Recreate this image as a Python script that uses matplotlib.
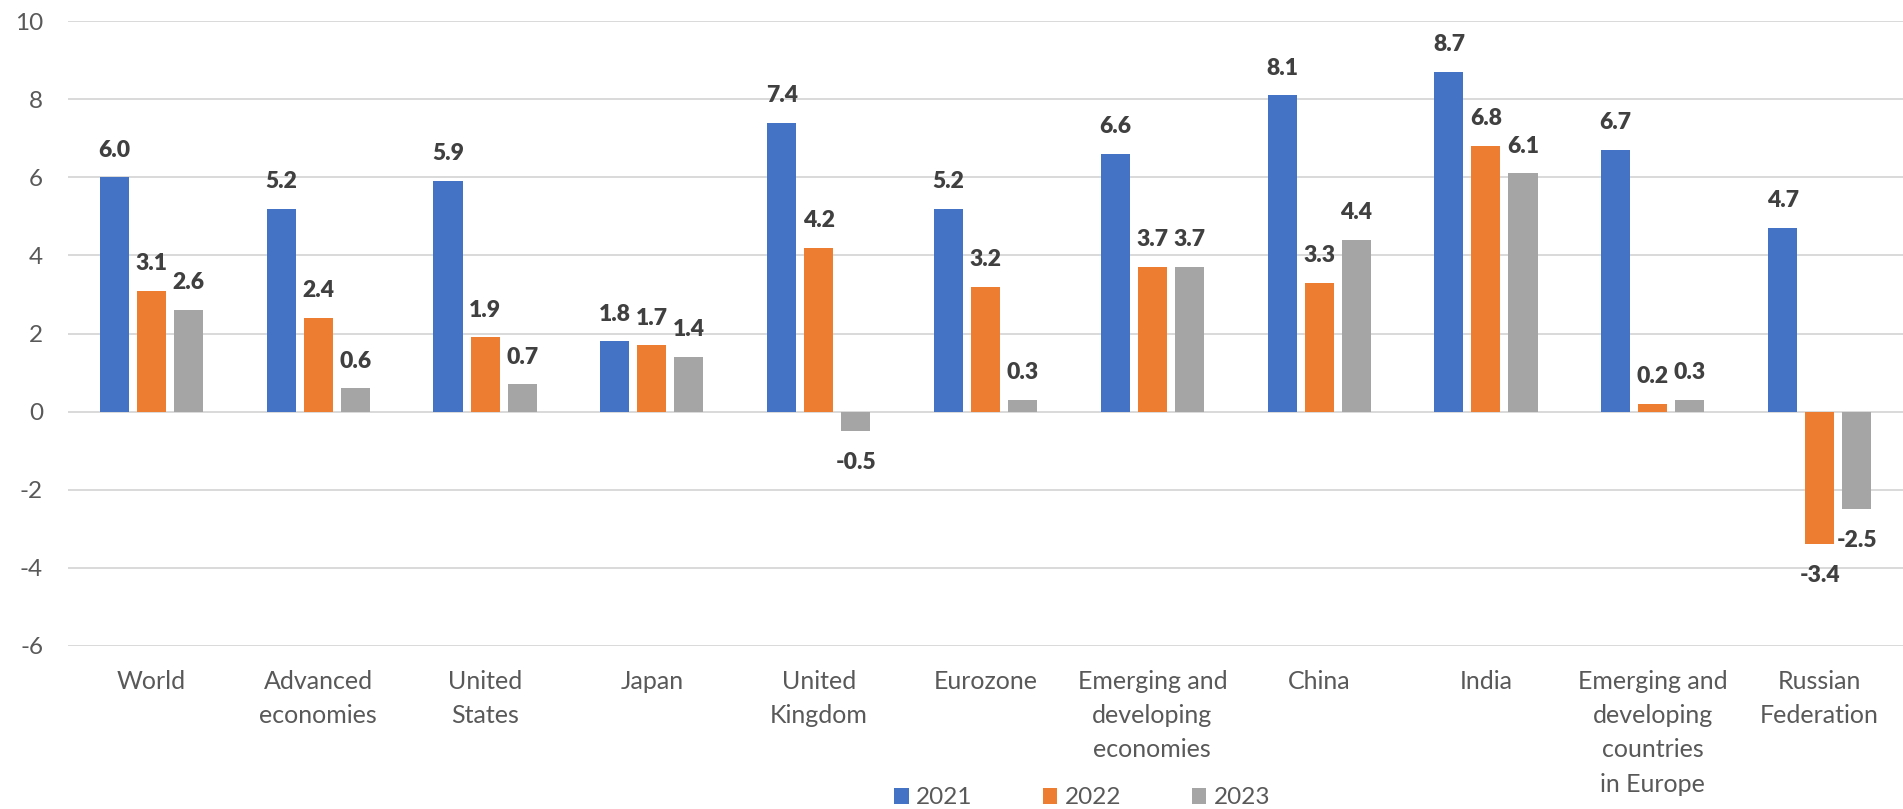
import matplotlib.pyplot as plt
import numpy as np
from matplotlib.patches import Patch

plt.rcParams['font.family'] = ['Lato', 'DejaVu Sans']
plt.rcParams['axes.unicode_minus'] = False

categories = [
    "World",
    "Advanced\neconomies",
    "United\nStates",
    "Japan",
    "United\nKingdom",
    "Eurozone",
    "Emerging and\ndeveloping\neconomies",
    "China",
    "India",
    "Emerging and\ndeveloping\ncountries\nin Europe",
    "Russian\nFederation",
]
years = ["2021", "2022", "2023"]
growth_2021 = [6.0, 5.2, 5.9, 1.8, 7.4, 5.2, 6.6, 8.1, 8.7, 6.7, 4.7]
growth_2022 = [3.1, 2.4, 1.9, 1.7, 4.2, 3.2, 3.7, 3.3, 6.8, 0.2, -3.4]
growth_2023 = [2.6, 0.6, 0.7, 1.4, -0.5, 0.3, 3.7, 4.4, 6.1, 0.3, -2.5]
colors = ["#4472C4", "#ED7D31", "#A5A5A5"]

TEXT_GREY = "#595959"
LABEL_GREY = "#404040"

fig = plt.figure(figsize=(19.03, 8.09), dpi=100)
ax = fig.add_axes([68 / 1903, 1 - 646 / 809, 1 - 68 / 1903, (646 - 21) / 809])

x = np.arange(len(categories))
width = 0.174
step = 0.222

for i, (vals, col) in enumerate(zip([growth_2021, growth_2022, growth_2023], colors)):
    pos = x + (i - 1) * step
    ax.bar(pos, vals, width=width, color=col, zorder=3)
    for xp, v in zip(pos, vals):
        if v >= 0:
            ax.annotate(f"{v:.1f}", (xp, v), xytext=(0, 12), textcoords="offset points",
                        ha="center", va="bottom", fontsize=16.5, fontweight="heavy",
                        color=LABEL_GREY)
        else:
            ax.annotate(f"{v:.1f}", (xp, v), xytext=(0, -15), textcoords="offset points",
                        ha="center", va="top", fontsize=16.5, fontweight="heavy",
                        color=LABEL_GREY)

ax.set_xlim(-0.5, len(categories) - 0.5)
ax.set_ylim(-6, 10)
ax.set_yticks(range(-6, 11, 2))
ax.yaxis.grid(True, color="#D9D9D9", linewidth=1.4, zorder=0)
ax.set_axisbelow(True)
for sp in ax.spines.values():
    sp.set_visible(False)

ax.set_xticks(x)
ax.set_xticklabels(categories, fontsize=18, color=TEXT_GREY, linespacing=1.6)
ax.tick_params(axis="x", length=0, pad=17)
ax.tick_params(axis="y", length=0, pad=18, labelsize=17.5, labelcolor=TEXT_GREY)

handles = [Patch(facecolor=c, edgecolor="none") for c in colors]
fig.legend(handles, years, loc="center", bbox_to_anchor=(0.5686, 1 - 798 / 809),
           ncol=3, frameon=False, fontsize=17.5, labelcolor=TEXT_GREY,
           handlelength=0.6, handleheight=0.6, handletextpad=0.3,
           columnspacing=2.9, borderpad=0)

fig.savefig("out.png", dpi=100)
